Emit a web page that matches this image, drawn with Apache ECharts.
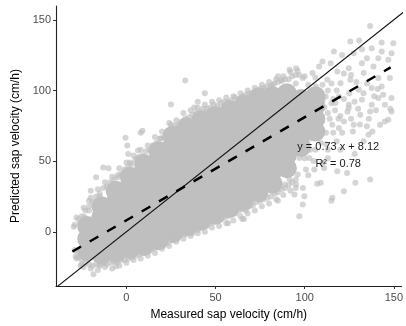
<!DOCTYPE html>
<html lang="en">
<head>
    <meta charset="UTF-8">
    <title>Measured vs predicted sap velocity</title>
    <script src="https://cdn.jsdelivr.net/npm/echarts@6/dist/echarts.min.js"></script>
    <style>
        html, body { margin: 0; padding: 0; background: #fff; }
        #chart1 { width: 406px; height: 326px; }
    </style>
</head>
<body>
<div id="chart1"></div>
<script>
    // tick labels
    var xTicks = [0, 50, 100, 150];
    var yTicks = [0, 50, 100, 150];

    // fitted line (from the annotation)
    var fitSlope = 0.73;
    var fitIntercept = 8.12;
    var fitR2 = 0.78;
    var fitXRange = [-30.3, 148.2];

    // dense part of the cloud, read column by column: [x, [y...]]
    var coreColumns = [
        [-22, [-14, -5, 4]],
        [-14, [-16, -7, 2, 11, 18]],
        [-6, [-15, -6, 3, 12, 21, 29]],
        [2, [-12, -3, 6, 15, 24, 33, 39]],
        [10, [-10, -1, 8, 17, 26, 35, 44, 48]],
        [18, [-6, 3, 12, 21, 30, 39, 48, 57]],
        [26, [-1, 8, 17, 26, 35, 44, 53, 62, 68]],
        [34, [4, 13, 22, 31, 40, 49, 58, 67, 74]],
        [42, [8, 17, 26, 35, 44, 53, 62, 71, 79]],
        [50, [12, 21, 30, 39, 48, 57, 66, 75, 82]],
        [58, [17, 26, 35, 44, 53, 62, 71, 80, 86]],
        [66, [22, 31, 40, 49, 58, 67, 76, 85, 90]],
        [74, [28, 37, 46, 55, 64, 73, 82, 91, 95]],
        [82, [34, 43, 52, 61, 70, 79, 88, 96]],
        [90, [45, 54, 63, 72, 81, 90, 98]],
        [98, [60, 69, 78, 87, 94]],
        [106, [71, 80, 89, 96]]
    ];

    // edge of the cloud, upper side
    var topEdge = [
        [-29, 5], [-27, 9], [-25, 11], [-23, 15], [-21, 18], [-19, 21], [-17, 25], [-15, 27], [-13, 31], [-11, 32],
        [-9, 35], [-7, 37], [-5, 40], [-3, 41], [-1, 44], [1, 46], [3, 48], [5, 51], [7, 53], [9, 54],
        [11, 57], [13, 58], [15, 61], [17, 63], [19, 66], [21, 67], [23, 71], [25, 73], [27, 75], [29, 76],
        [31, 78], [33, 80], [35, 81], [37, 83], [39, 84], [41, 85], [43, 87], [45, 87], [47, 88], [49, 90],
        [51, 89], [53, 91], [55, 92], [57, 92], [59, 93], [61, 95], [63, 94], [65, 96], [67, 97], [69, 98],
        [71, 98], [73, 100], [75, 101], [77, 102], [79, 103], [81, 103], [83, 105], [85, 106], [87, 107], [89, 108],
        [91, 108], [93, 110], [95, 111], [97, 111]
    ];
    var topOuter = [
        [-28, 10], [-24, 17], [-20, 24], [-16, 30], [-12, 35], [-8, 39], [-4, 45], [0, 49], [4, 54], [8, 58],
        [12, 61], [16, 67], [20, 71], [24, 77], [28, 79], [32, 84], [36, 86], [40, 88], [44, 90], [48, 92],
        [52, 93], [56, 95], [60, 96], [64, 98], [68, 100], [72, 102], [76, 104], [80, 106], [84, 108], [88, 110],
        [92, 113], [96, 114]
    ];

    // edge of the cloud, lower side
    var bottomEdge = [
        [-29, -13], [-27, -18], [-25, -20], [-23, -22], [-21, -23], [-19, -24], [-17, -23], [-15, -24], [-13, -22], [-11, -23],
        [-9, -22], [-7, -21], [-5, -22], [-3, -20], [-1, -20], [1, -19], [3, -18], [5, -17], [7, -16], [9, -15],
        [11, -14], [13, -13], [15, -12], [17, -11], [19, -10], [21, -9], [23, -8], [25, -6], [27, -5], [29, -3],
        [31, -2], [33, -2], [35, 0], [37, 1], [39, 2], [41, 3], [43, 4], [45, 5], [47, 6], [49, 7],
        [51, 8], [53, 9], [55, 10], [57, 11], [59, 12], [61, 13], [63, 15], [65, 16], [67, 17], [69, 18],
        [71, 19], [73, 21], [75, 22], [77, 23], [79, 24], [81, 25], [83, 27], [85, 28], [87, 30], [89, 31],
        [91, 33], [93, 35], [95, 37]
    ];
    var bottomOuter = [
        [-28, -19], [-24, -25], [-20, -26], [-16, -27], [-12, -25], [-8, -26], [-4, -24], [0, -22], [4, -20], [8, -19],
        [12, -17], [16, -15], [20, -12], [24, -10], [28, -7], [32, -5], [36, -3], [40, -1], [44, 0], [48, 3],
        [52, 4], [56, 6], [60, 8], [64, 11], [68, 13], [72, 15], [76, 18], [80, 20], [84, 23], [88, 26],
        [92, 29]
    ];

    // loose points outside the dense band
    var loosePoints = [
        [33, 107], [44, 98], [25, 90], [40, 92], [38, 88], [42, 83], [46, 85], [51, 86], [53, 85], [60, 89],
        [66, 93], [71, 95], [73, 95], [77, 100], [82, 104], [85, 110], [87, 107], [8, 70], [15, 61], [19, 66],
        [25, 76], [31, 68], [-29.5, 3.5], [-26, 6], [-23.5, 10.5], [-21, 15], [-20, 29], [-17, 38.5], [-13, 45.5], [-10, 45],
        [-4.5, 38.5], [-0.5, 66.5], [0.5, 61], [1, 55], [6, 52], [6.5, 57.5], [2, 49], [9, 71.5], [-21, 22], [-15, 25],
        [-28, -14], [-25, -23], [-18.5, -30], [-15, -23], [-12.5, -22], [-6, -24.5], [4, -16], [-28.5, -17.5], [-25.7, -24], [66, 9],
        [57, 6], [45, 4], [36, -1], [40, 1], [25, -2], [31, 3], [65, 9], [51, 13], [67, 15], [62, 22],
        [75, 25], [78, 29], [85, 22], [37, -1], [25, -3],
        [136.7, 145.7], [149.7, 133.5], [143.2, 133.9], [130.6, 135.3], [125.6, 134.6], [116.4, 127.6], [121, 125.2], [132.1, 129.2], [137.6, 129.9], [143.2, 127.6],
        [148.7, 126.4], [141.3, 122.9], [134.9, 122.9], [127.5, 126.4], [110, 120.5], [114.6, 119.3], [108.1, 117], [91.5, 114.6], [95.2, 115.8], [98.9, 108.8],
        [104.4, 112.3], [118.3, 113.4], [124.7, 115.8], [132.1, 119.3], [138.6, 117], [146.9, 121.7], [133.1, 112.3], [125.6, 107.6], [120.1, 105.2], [112.7, 107.6],
        [106.3, 102.8], [141.3, 108.8], [147.8, 108.8], [143.2, 102.8], [137.6, 101.7], [130.3, 100.5], [119.2, 95.8], [111.8, 95.8], [132.1, 93.4], [141.3, 94.6],
        [148.7, 94.6], [145, 89.9], [137.6, 89.9], [124.7, 89.9], [117.3, 91.1], [124.7, 87.6], [131.2, 82.8], [136.7, 85.2], [146.9, 79.3], [142.3, 75.8],
        [148.7, 85.2], [134.9, 74.6], [127.5, 75.8], [122, 78.1], [119.2, 73.4], [115.5, 75.8], [135.8, 68.7], [145, 78], [148, 87], [138, 71],
        [90.6, 44], [96.1, 40.6], [100.7, 44], [105.4, 44], [110.9, 45.2], [118.3, 42.8], [123.8, 41.6], [91.5, 36.9], [95.2, 33.4], [109, 34.6],
        [128.4, 34.6], [136.7, 36.9], [94.3, 26.3], [99.8, 25.1], [122, 28.7], [115.5, 24], [88.8, 33.4], [98.9, 19.3], [97, 11], [115, 22],
        [89.6, 64], [91.5, 56.9], [97.1, 52.2], [102.6, 52.2], [88.8, 52], [110, 48.7], [128, 55], [133, 64], [127, 71], [109, 69],
        [100, 60], [103, 66], [106, 58], [109, 63], [112, 70], [104, 75], [108, 82], [111, 88], [114, 80], [117, 86],
        [120, 82], [116, 94], [113, 100], [108, 96], [104, 90], [101, 84], [99, 97], [102, 104], [106, 109], [110, 104],
        [118, 100], [122, 94], [125, 98], [128, 92], [124, 85], [121, 70], [118, 64], [113, 58], [126, 80], [130, 87],
        [129, 106], [126, 111], [122, 112], [135, 105], [133, 98], [139, 96], [141, 101], [144, 97], [136, 80], [131, 76],
        [140, 86], [96, 58], [93, 62], [98, 75], [95, 84], [97, 92], [93, 100], [95, 105], [100, 110], [105, 100],
        [110, 93], [115, 105], [107, 78], [102, 71], [95, 68], [87, 71], [107, 34], [102, 40], [99, 31], [95, 31],
        [112, 62], [116, 70], [113, 84], [115, 91], [119, 80], [103, 58], [100, 52], [105, 50], [113, 52], [120, 58]
    ];

    var corePoints = [];
    for (var i = 0; i < coreColumns.length; i++) {
        var ys = coreColumns[i][1];
        for (var j = 0; j < ys.length; j++) {
            corePoints.push([coreColumns[i][0], ys[j]]);
        }
    }
    var outerPoints = topEdge.concat(topOuter, bottomEdge, bottomOuter, loosePoints);

    var xMin = -39.5, xMax = 154.3;
    var yMin = -38.4, yMax = 159.8;

    var fitLine = [
        [fitXRange[0], fitSlope * fitXRange[0] + fitIntercept],
        [fitXRange[1], fitSlope * fitXRange[1] + fitIntercept]
    ];
    var oneToOne = [[xMin, xMin], [yMax, yMax]];

    var font = 'Liberation Sans, Arial, Helvetica, sans-serif';
    var myChart = echarts.init(document.getElementById('chart1'));

    var option = {
        animation: false,
        textStyle: { fontFamily: font },
        grid: { left: 56, right: 0, top: 6, bottom: 39 },
        xAxis: {
            type: 'value',
            min: xMin,
            max: xMax,
            name: 'Measured sap velocity (cm/h)',
            nameLocation: 'middle',
            nameGap: 23,
            nameTextStyle: { fontSize: 12, color: '#000', fontFamily: font },
            axisLine: { onZero: false, lineStyle: { color: '#222', width: 1.1 } },
            axisTick: { length: 3, customValues: xTicks, lineStyle: { color: '#333' } },
            axisLabel: { customValues: xTicks, fontSize: 11, color: '#4d4d4d', margin: 6, fontFamily: font },
            splitLine: { show: false }
        },
        yAxis: {
            type: 'value',
            min: yMin,
            max: yMax,
            name: 'Predicted sap velocity (cm/h)',
            nameLocation: 'middle',
            nameGap: 26,
            nameTextStyle: { fontSize: 12, color: '#000', fontFamily: font },
            axisLine: { show: true, onZero: false, lineStyle: { color: '#222', width: 1.1 } },
            axisTick: { show: true, length: 3, customValues: yTicks, lineStyle: { color: '#333' } },
            axisLabel: { customValues: yTicks, fontSize: 11, color: '#4d4d4d', margin: 5, fontFamily: font },
            splitLine: { show: false }
        },
        series: [
            {
                type: 'scatter',
                data: corePoints,
                symbolSize: 20,
                itemStyle: { color: '#bfbfbf', opacity: 1 },
                silent: true,
                z: 1
            },
            {
                type: 'scatter',
                data: outerPoints,
                symbolSize: 6,
                itemStyle: { color: 'rgba(190,190,190,0.65)', opacity: 1 },
                silent: true,
                z: 2
            },
            {
                type: 'line',
                data: oneToOne,
                showSymbol: false,
                clip: true,
                lineStyle: { color: '#111', width: 1.1 },
                z: 3
            },
            {
                type: 'line',
                data: fitLine,
                showSymbol: false,
                clip: true,
                lineStyle: { color: '#000', width: 2.5, type: [10, 10] },
                z: 4
            }
        ]
    };

    myChart.setOption(option);

    // equation and R2 text, placed at data coordinates
    var p1 = myChart.convertToPixel({ gridIndex: 0 }, [118.8, 60.2]);
    var p2 = myChart.convertToPixel({ gridIndex: 0 }, [118.8, 48.2]);
    myChart.setOption({
        graphic: [
            {
                type: 'text', x: p1[0], y: p1[1], z: 10,
                style: {
                    text: 'y = ' + fitSlope.toFixed(2) + ' x + ' + fitIntercept.toFixed(2),
                    fill: '#1a1a1a', font: '11px ' + font, align: 'center', verticalAlign: 'middle'
                }
            },
            {
                type: 'text', x: p2[0], y: p2[1], z: 10,
                style: {
                    text: 'R² = ' + fitR2.toFixed(2),
                    fill: '#1a1a1a', font: '11px ' + font, align: 'center', verticalAlign: 'middle'
                }
            }
        ]
    });
</script>
</body>
</html>
